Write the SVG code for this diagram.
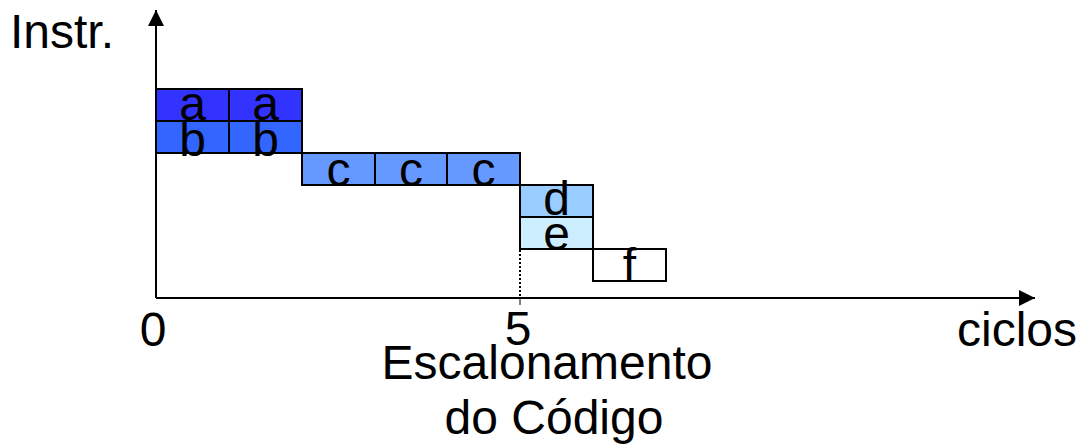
<svg xmlns="http://www.w3.org/2000/svg" width="1081" height="445" viewBox="0 0 1081 445">
<style>
text{font-family:"Liberation Sans",Arial,sans-serif;font-size:48px;fill:#000}
.cell{stroke:#000;stroke-width:2}
.lbl{text-anchor:middle}
.axis{stroke:#000;stroke-width:2;fill:none}
</style>
<defs>
<marker id="arr" viewBox="0 0 10 10" refX="10" refY="5" markerWidth="16" markerHeight="16" markerUnits="userSpaceOnUse" orient="auto">
<path d="M0,0 L10,5 L0,10 z" fill="#000"/>
</marker>
</defs>
<rect width="1081" height="445" fill="#fff"/>
<g id="connectors">
<line class="axis" x1="156" y1="298" x2="156" y2="10" marker-end="url(#arr)"/>
<line class="axis" x1="156" y1="298" x2="1035" y2="298" marker-end="url(#arr)"/>
<line x1="520" y1="250" x2="520" y2="298" stroke="#000" stroke-width="2" stroke-dasharray="2,2"/>
<line x1="520" y1="298" x2="520" y2="305" stroke="#000" stroke-width="1"/>
</g>
<g id="node-a">
<rect class="cell" x="156" y="89" width="73" height="32" fill="#3333FF"/>
<rect class="cell" x="229" y="89" width="73" height="32" fill="#3333FF"/>
<text class="lbl" x="192.5" y="120">a</text>
<text class="lbl" x="265.5" y="120">a</text>
</g>
<g id="node-b">
<rect class="cell" x="156" y="121" width="73" height="32" fill="#3366FF"/>
<rect class="cell" x="229" y="121" width="73" height="32" fill="#3366FF"/>
<text class="lbl" x="192.5" y="156">b</text>
<text class="lbl" x="265.5" y="156">b</text>
</g>
<g id="node-c">
<rect class="cell" x="302" y="153" width="73" height="32" fill="#6699FF"/>
<rect class="cell" x="375" y="153" width="72" height="32" fill="#6699FF"/>
<rect class="cell" x="447" y="153" width="73" height="32" fill="#6699FF"/>
<text class="lbl" x="338.5" y="186">c</text>
<text class="lbl" x="411" y="186">c</text>
<text class="lbl" x="483.5" y="186">c</text>
</g>
<g id="node-d">
<rect class="cell" x="520" y="185" width="73" height="32" fill="#99CCFF"/>
<text class="lbl" x="556.5" y="215">d</text>
</g>
<g id="node-e">
<rect class="cell" x="520" y="217" width="73" height="32" fill="#CCEEFF"/>
<text class="lbl" x="556.5" y="250">e</text>
</g>
<g id="node-f">
<rect class="cell" x="593" y="249" width="73" height="32" fill="#FFFFFF"/>
<text class="lbl" x="629.5" y="282">f</text>
</g>
<g id="labels">
<text x="10" y="48">Instr.</text>
<text class="lbl" x="153" y="346">0</text>
<text class="lbl" x="518" y="345">5</text>
<text class="lbl" x="1017" y="346">ciclos</text>
<text class="lbl" x="547" y="379">Escalonamento</text>
<text class="lbl" x="554" y="434">do Código</text>
</g>
</svg>
